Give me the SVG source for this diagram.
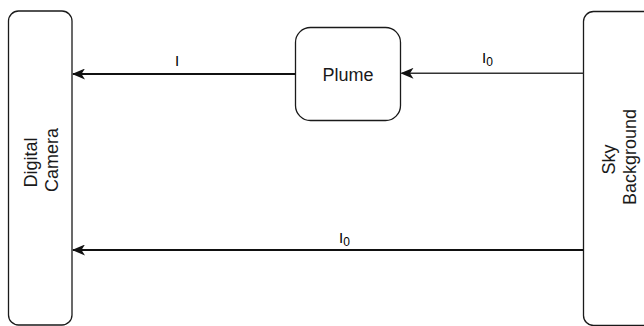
<svg xmlns="http://www.w3.org/2000/svg" width="644" height="326" viewBox="0 0 644 326">
  <defs>
    <style>
      .box { fill: #ffffff; stroke: #1a1a1a; stroke-width: 1.3; }
      .lbl { font-family: "Liberation Sans", Arial, sans-serif; font-size: 18px; fill: #1a1a1a; text-anchor: middle; }
      .edge { fill: none; stroke: #111111; stroke-width: 2; }
      .edge-thin { fill: none; stroke: #333333; stroke-width: 1.4; }
      .elbl { font-family: "Liberation Sans", Arial, sans-serif; font-size: 15px; fill: #000000; }
    </style>
    <marker id="arrow" viewBox="0 0 13 11" refX="12" refY="5.5" markerUnits="userSpaceOnUse" markerWidth="13" markerHeight="11" orient="auto">
      <path d="M0,0 L13,5.5 L0,11 L3.5,5.5 Z" fill="#111111"/>
    </marker>
  </defs>

  <g id="camera">
    <rect class="box" x="8.5" y="11" width="63.5" height="314" rx="10"/>
    <text class="lbl" transform="translate(41,160) rotate(-90)">
      <tspan x="0" y="-4">Digital</tspan>
      <tspan x="0" y="17">Camera</tspan>
    </text>
  </g>

  <g id="plume">
    <rect class="box" x="295.5" y="27.5" width="105" height="93" rx="15"/>
    <text class="lbl" x="348" y="81">Plume</text>
  </g>

  <g id="sky">
    <rect class="box" x="583.5" y="11.5" width="80" height="314" rx="10"/>
    <text class="lbl" transform="translate(619,157) rotate(-90)">
      <tspan x="0" y="-4">Sky</tspan>
      <tspan x="0" y="17">Background</tspan>
    </text>
  </g>

  <g id="connectors">
    <line class="edge" x1="295.5" y1="74" x2="73" y2="74" marker-end="url(#arrow)"/>
    <line class="edge-thin" x1="583.5" y1="73.3" x2="401.5" y2="73.3" marker-end="url(#arrow)"/>
    <line class="edge" x1="583.5" y1="250" x2="73" y2="250" marker-end="url(#arrow)"/>
    <text class="elbl" x="177" y="66" text-anchor="middle">I</text>
    <text class="elbl" x="482" y="63">I<tspan font-size="12" dy="3">0</tspan></text>
    <text class="elbl" x="339" y="243">I<tspan font-size="12" dy="3">0</tspan></text>
  </g>
</svg>
